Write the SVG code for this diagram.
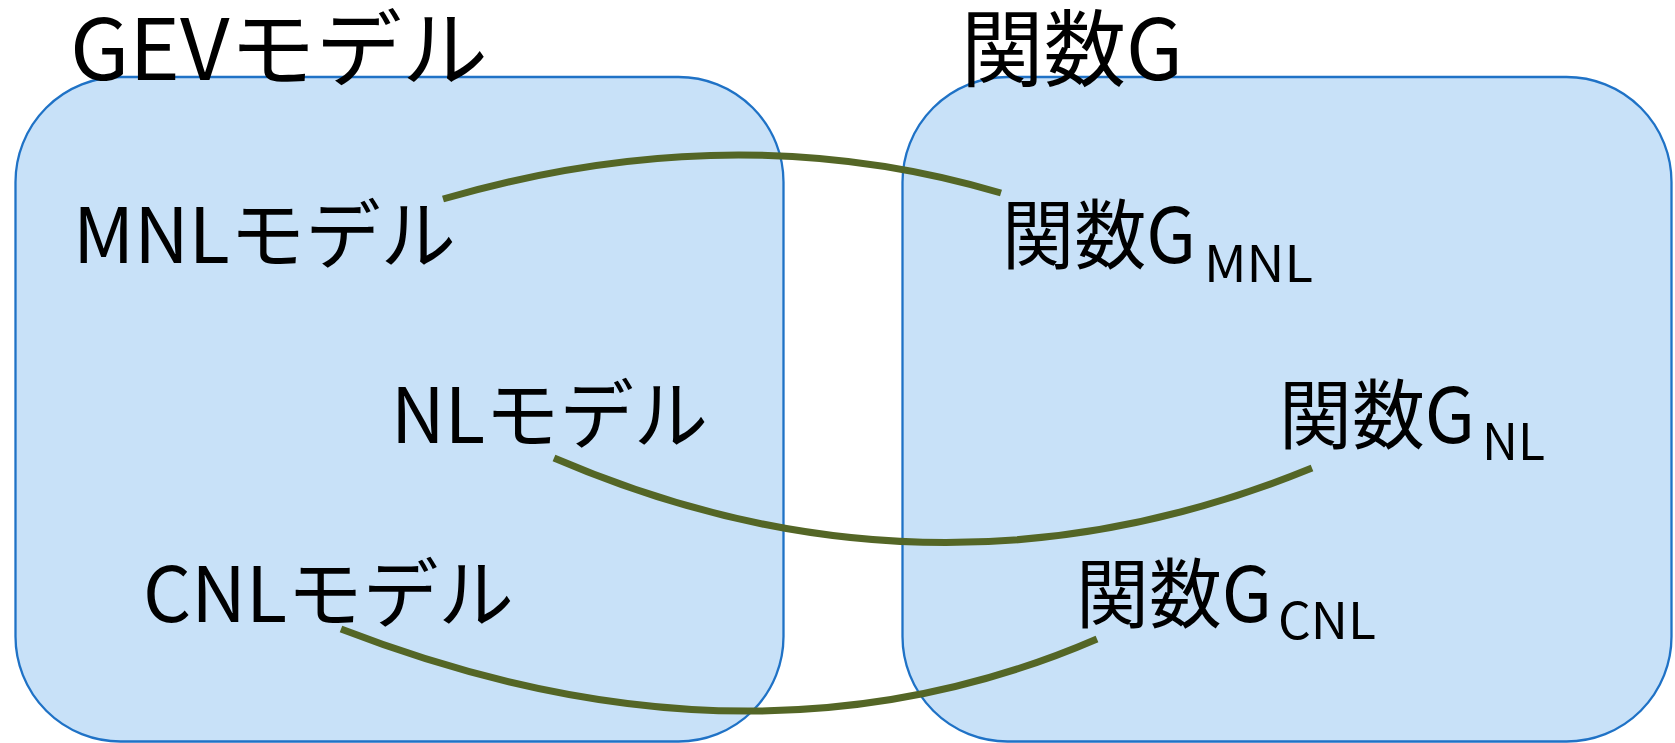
<svg xmlns="http://www.w3.org/2000/svg" width="1675" height="743" viewBox="0 0 1675 743">
<style>
.box{fill:#C8E1F8;stroke:#1F72C6;stroke-width:2.3}
.t{font-family:"Noto Sans CJK JP","Noto Sans",sans-serif;fill:#000}
.m{font-size:76px}
.h{font-size:84px}
.s{font-size:50px}
.c{fill:none;stroke:#546626;stroke-width:7}
</style>
<rect width="1675" height="743" fill="#fff"/>
<g id="gev-box"><rect class="box" x="15.5" y="77" width="768" height="664.5" rx="105" ry="105"/></g>
<g id="g-box"><rect class="box" x="902.5" y="77" width="769" height="664.5" rx="105" ry="105"/></g>
<g id="connectors">
<path class="c" d="M443,199 Q735,114 1001,193"/>
<path class="c" d="M554,458 Q935,622 1312,468"/>
<path class="c" d="M341,629 Q752,788 1097,639"/>
</g>
<g id="gev-title"><text class="t h" x="70" y="80" textLength="418" lengthAdjust="spacingAndGlyphs">GEVモデル</text></g>
<g id="g-title"><text class="t h" x="961" y="80" textLength="222" lengthAdjust="spacingAndGlyphs">関数G</text></g>
<g id="mnl"><text class="t m" x="73" y="263" textLength="383" lengthAdjust="spacingAndGlyphs">MNLモデル</text></g>
<g id="nl"><text class="t m" x="391" y="443" textLength="317" lengthAdjust="spacingAndGlyphs">NLモデル</text></g>
<g id="cnl"><text class="t m" x="143" y="622" textLength="371" lengthAdjust="spacingAndGlyphs">CNLモデル</text></g>
<g id="g-mnl"><text class="t m" x="1002" y="263" textLength="194" lengthAdjust="spacingAndGlyphs">関数G</text><text class="t s" x="1204" y="282" textLength="109" lengthAdjust="spacingAndGlyphs">MNL</text></g>
<g id="g-nl"><text class="t m" x="1279" y="443" textLength="196" lengthAdjust="spacingAndGlyphs">関数G</text><text class="t s" x="1482" y="460" textLength="63" lengthAdjust="spacingAndGlyphs">NL</text></g>
<g id="g-cnl"><text class="t m" x="1076" y="622" textLength="196" lengthAdjust="spacingAndGlyphs">関数G</text><text class="t s" x="1278" y="639" textLength="98" lengthAdjust="spacingAndGlyphs">CNL</text></g>
</svg>
